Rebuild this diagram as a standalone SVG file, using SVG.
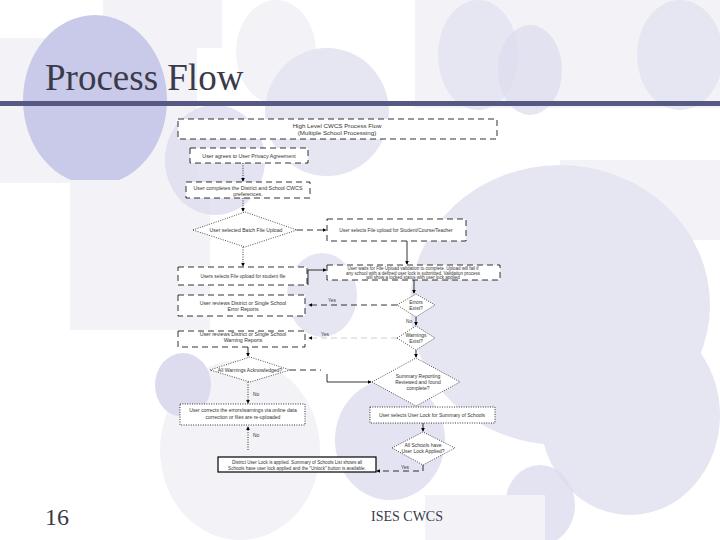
<svg xmlns="http://www.w3.org/2000/svg" width="720" height="540" viewBox="0 0 720 540">
<defs>
<style>
.bg1{fill:#c9cae9}
.bg2{fill:#e6e6f2}
.bg3{fill:#f2f2f7}
.bg4{fill:#dcdcee}
.box{fill:#ffffff;stroke:#000;stroke-width:0.8}
.dash{stroke-dasharray:6 4}
.dot{stroke-dasharray:1 1.4}
.dia{fill:#ffffff;stroke:#000;stroke-width:0.7;stroke-dasharray:1 1.4}
.t{font-family:"Liberation Sans",Arial,sans-serif;fill:#333;text-anchor:middle}
.c{fill:none;stroke:#000;stroke-width:0.8}
.lbl{font-family:"Liberation Sans",Arial,sans-serif;fill:#333;font-size:4.8px}
.serif{font-family:"Liberation Serif","Times New Roman",serif;fill:#3a3a4a}
</style>
<marker id="ah" viewBox="0 0 6 6" refX="5" refY="3" markerWidth="4" markerHeight="4" orient="auto" markerUnits="userSpaceOnUse">
<path d="M0,0 L6,3 L0,6 z" fill="#000"/>
</marker>
</defs>

<!-- background -->
<rect width="720" height="540" fill="#ffffff"/>
<g id="background">
<rect class="bg3" x="103" y="0" width="119" height="48"/>
<rect class="bg3" x="0" y="38" width="197" height="145"/>
<rect class="bg3" x="415" y="0" width="305" height="108"/>
<ellipse class="bg3" cx="276" cy="52" rx="40" ry="52"/>
<ellipse class="bg2" cx="327" cy="112" rx="62" ry="64"/>
<ellipse class="bg2" cx="478" cy="55" rx="40" ry="55"/>
<ellipse class="bg4" cx="530" cy="70" rx="32" ry="45" opacity="0.7"/>
<ellipse class="bg2" cx="680" cy="55" rx="43" ry="55"/>
<ellipse class="bg1" cx="95" cy="100" rx="72" ry="85"/>
<rect class="bg3" x="70" y="180" width="140" height="150"/>
<rect class="bg3" x="560" y="160" width="160" height="80"/>
<ellipse class="bg4" cx="215" cy="160" rx="50" ry="55" opacity="0.8"/>
<ellipse class="bg2" cx="322" cy="295" rx="35" ry="42"/>
<ellipse class="bg2" cx="560" cy="305" rx="150" ry="140"/>
<ellipse class="bg2" cx="630" cy="415" rx="90" ry="100"/>
<ellipse class="bg3" cx="240" cy="450" rx="80" ry="90"/>
<ellipse class="bg4" cx="390" cy="440" rx="55" ry="60" opacity="0.8"/>
<ellipse class="bg4" cx="183" cy="385" rx="28" ry="32"/>
<ellipse class="bg4" cx="540" cy="505" rx="35" ry="40" opacity="0.8"/>
<rect class="bg3" x="425" y="495" width="120" height="45"/>
</g>

<text class="serif" x="45" y="90" font-size="37">Process Flow</text>
<rect x="0" y="101" width="720" height="5" fill="#565a82"/>
<text class="serif" x="45" y="525" font-size="24">16</text>
<text class="serif" x="407" y="521" font-size="14" text-anchor="middle">ISES CWCS</text>

<!-- connectors -->
<g id="connectors">
<path class="c dot" d="M243,163 V181" marker-end="url(#ah)"/>
<path class="c dot" d="M243,198 V211" marker-end="url(#ah)"/>
<path class="c dash" d="M297,230 H326" marker-end="url(#ah)"/>
<path class="c" d="M407,241 V264" marker-end="url(#ah)"/>
<path class="c dot" d="M243,247 V266" marker-end="url(#ah)"/>
<path class="c" d="M308,285 V270 H326" marker-end="url(#ah)"/>
<path class="c" d="M414,280 V293" marker-end="url(#ah)"/>
<path class="c dash" d="M397,305 H309" marker-end="url(#ah)"/>
<text class="lbl" x="328" y="302">Yes</text>
<path class="c" d="M416,317 V325" marker-end="url(#ah)"/>
<text class="lbl" x="406" y="323">No</text>
<path class="c dash" d="M397,338 H309" stroke-opacity="0.25" marker-end="url(#ah)"/>
<text class="lbl" x="321" y="336">Yes</text>
<path class="c" d="M416,350 V357" marker-end="url(#ah)"/>
<path class="c" d="M248,347 V356" marker-end="url(#ah)"/>
<path class="c dash" d="M290,370 H321"/>
<path class="c" d="M327,374 V382 H371" marker-end="url(#ah)"/>
<path class="c dot" d="M248,382 V403" marker-end="url(#ah)"/>
<text class="lbl" x="253" y="396">No</text>
<path class="c dot" d="M248,450 V427" marker-end="url(#ah)"/>
<text class="lbl" x="253" y="437">No</text>
<text class="lbl" x="421" y="412">Yes</text>
<path class="c" d="M423,423 V431" marker-end="url(#ah)"/>
<path class="c dash" d="M423,465 V471 H377" marker-end="url(#ah)"/>
<text class="lbl" x="401" y="469">Yes</text>
</g>

<!-- nodes -->
<g id="n-title">
<rect class="box dash" x="178" y="119" width="319" height="20"/>
<text class="t" x="337" y="128" font-size="6.2">High Level CWCS Process Flow</text>
<text class="t" x="337" y="134.5" font-size="6.2">(Multiple School Processing)</text>
</g>
<g id="n-privacy">
<rect class="box dash" x="190" y="148" width="118" height="15"/>
<text class="t" x="249" y="157.5" font-size="5.3">User agrees to User Privacy Agreement</text>
</g>
<g id="n-prefs">
<rect class="box dash" x="186" y="182" width="124" height="16"/>
<text class="t" x="248" y="189.5" font-size="5.3">User completes the District and School CWCS</text>
<text class="t" x="248" y="195.5" font-size="5.3">preferences.</text>
</g>
<g id="n-batch">
<polygon class="dia" points="193,230 245,212 297,230 245,247"/>
<text class="t" x="246" y="231.8" font-size="5.1">User selected Batch File Upload</text>
</g>
<g id="n-sct">
<rect class="box dash" x="327" y="219" width="139" height="22"/>
<text class="t" x="396" y="232" font-size="4.9">User selects File upload for Student/Course/Teacher</text>
</g>
<g id="n-student">
<rect class="box dash" x="178" y="267" width="129" height="18"/>
<text class="t" x="243" y="277.5" font-size="4.8">Users selects File upload for student file</text>
</g>
<g id="n-wait">
<rect class="box dash" x="327" y="265" width="173" height="15"/>
<text class="t" x="413" y="270" font-size="4.5">User waits for File Upload validation to complete. Upload will fail if</text>
<text class="t" x="413" y="274.7" font-size="4.5">any school with a defined user lock is submitted. Validation process</text>
<text class="t" x="413" y="279.3" font-size="4.5">will show a locked status with user lock applied</text>
</g>
<g id="n-errors">
<polygon class="dia" points="397,305 416,294 435,305 416,317"/>
<text class="t" x="416" y="303.5" font-size="5">Errors</text>
<text class="t" x="416" y="309.5" font-size="5">Exist?</text>
</g>
<g id="n-errrep">
<rect class="box dash" x="178" y="295" width="127" height="21"/>
<text class="t" x="243" y="304.5" font-size="5.2">User reviews District or Single School</text>
<text class="t" x="243" y="310.5" font-size="5.2">Error Reports</text>
</g>
<g id="n-warn">
<polygon class="dia" points="397,338 416,326 435,338 416,350"/>
<text class="t" x="416" y="336.5" font-size="5">Warnings</text>
<text class="t" x="416" y="342.5" font-size="5">Exist?</text>
</g>
<g id="n-warnrep">
<rect class="box dash" x="178" y="331" width="127" height="16"/>
<text class="t" x="243" y="335.5" font-size="5.2">User reviews District or Single School</text>
<text class="t" x="243" y="341.5" font-size="5.2">Warning Reports</text>
</g>
<g id="n-ack">
<polygon class="dia" points="210,370 250,357 290,370 250,382"/>
<text class="t" x="250" y="372" font-size="5">All Warnings Acknowledged?</text>
</g>
<g id="n-summary">
<polygon class="dia" points="372,382 416,358 460,382 416,406"/>
<text class="t" x="418" y="377.5" font-size="5">Summary Reporting</text>
<text class="t" x="418" y="383.5" font-size="5">Reviewed and found</text>
<text class="t" x="418" y="389.5" font-size="5">complete?</text>
</g>
<g id="n-correct">
<rect class="box dot" x="180" y="404" width="125" height="21"/>
<text class="t" x="243" y="411.5" font-size="5">User corrects the errors/warnings via online data</text>
<text class="t" x="243" y="418.5" font-size="5">correction or files are re-uploaded</text>
</g>
<g id="n-userlock">
<rect class="box dot" x="370" y="407" width="125" height="16"/>
<text class="t" x="432" y="416.5" font-size="5">User selects User Lock for Summary of Schools</text>
</g>
<g id="n-allschools">
<polygon class="dia" points="392,448 423,432 455,448 423,465"/>
<text class="t" x="423" y="446.5" font-size="5">All Schools have</text>
<text class="t" x="423" y="452.5" font-size="5">User Lock Applied?</text>
</g>
<g id="n-final">
<rect x="218" y="457" width="158" height="15" fill="#fff" stroke="#000" stroke-width="1.2"/>
<text class="t" x="297" y="463.5" font-size="4.6">District User Lock is applied. Summary of Schools List shows all</text>
<text class="t" x="297" y="469.5" font-size="4.6">Schools have user lock applied and the "Unlock" button is available.</text>
</g>
</svg>
